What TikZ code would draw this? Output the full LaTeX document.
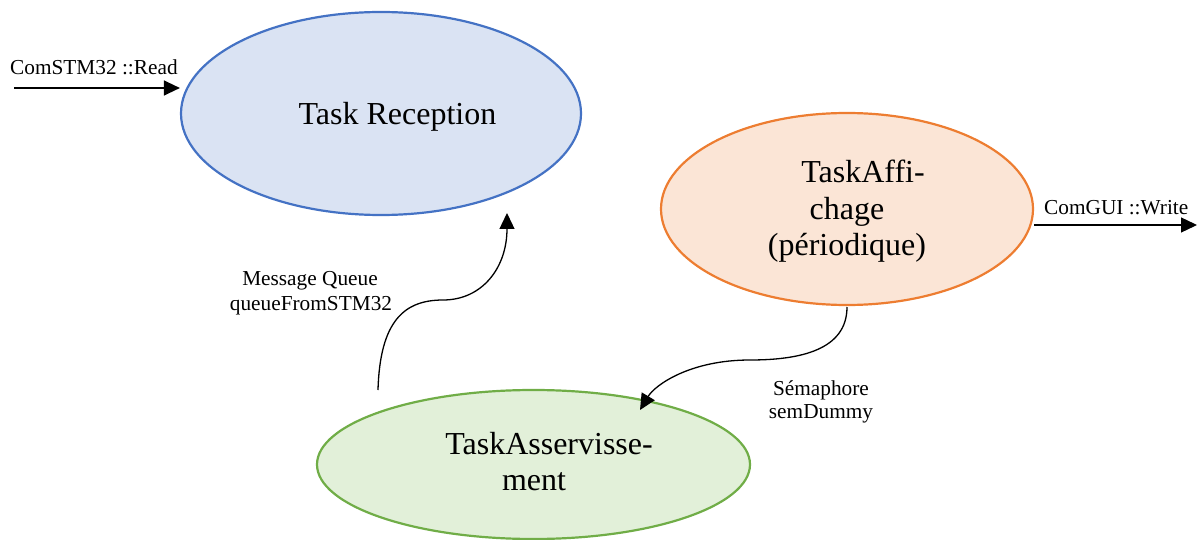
\documentclass[tikz,border=0pt]{standalone}
\usepackage{fontspec}
\setmainfont{Liberation Serif}
\usetikzlibrary{shapes.geometric,arrows.meta}

\definecolor{recfill}{HTML}{DAE3F3}
\definecolor{recline}{HTML}{4472C4}
\definecolor{afffill}{HTML}{FBE5D6}
\definecolor{affline}{HTML}{ED7D31}
\definecolor{assfill}{HTML}{E2F0D9}
\definecolor{assline}{HTML}{70AD47}

\tikzset{
  task/.style={ellipse, inner sep=0pt, line width=2.2pt},
  bigtext/.style={anchor=base, inner sep=0pt, font=\fontsize{32}{36}\selectfont},
  smalltext/.style={anchor=base, inner sep=0pt, font=\fontsize{21.3}{25}\selectfont},
  flow/.style={line width=1.3pt, -{Triangle[length=16pt,width=15pt]}}
}

\begin{document}
\begin{tikzpicture}[x=1pt, y=-1pt]
  \useasboundingbox (0,0) rectangle (1197,540);

  % tasks
  \node[task, draw=recline, fill=recfill, minimum width=400pt, minimum height=203pt] (rec) at (381,113.5) {};
  \node[task, draw=affline, fill=afffill, minimum width=372pt, minimum height=192pt] (aff) at (847,209) {};
  \node[task, draw=assline, fill=assfill, minimum width=433pt, minimum height=149pt] (ass) at (533.5,464.5) {};

  % task names
  \node[bigtext] (recname) at (397.5,125) {Task Reception};
  \node[bigtext] (affname1) at (863,183) {TaskAffi-};
  \node[bigtext] (affname2) at (847,220) {chage};
  \node[bigtext] (affname3) at (847,255) {(périodique)};
  \node[bigtext] (assname1) at (549,454) {TaskAsservisse-};
  \node[bigtext] (assname2) at (534,490) {ment};

  % serial input
  \coordinate (rxin) at (14,88);
  \draw[flow] (rxin) -- (rxin -| rec.west);
  \node[smalltext, anchor=base west] (rxlabel) at (10,75) {ComSTM32 ::Read};

  % GUI output
  \coordinate (txout) at (1197,225);
  \draw[flow] (txout -| aff.east) -- (txout);
  \node[smalltext, anchor=base west] (txlabel) at (1044,215) {ComGUI ::Write};

  % message queue from the control task to the reception task
  \coordinate (qstart) at (378,390);
  \coordinate (qmid) at (443,300);
  \coordinate (qend) at (507,213);
  \draw[flow] (qstart) .. controls (380,320) and (405,300) .. (qmid)
                       .. controls (482,300) and (507,268) .. (qend);
  \node[smalltext] (qlabel1) at (310,285) {Message Queue};
  \node[smalltext] (qlabel2) at (311,310) {queueFromSTM32};

  % semaphore from the display task to the control task
  \coordinate (sstart) at (847,307);
  \coordinate (smid) at (750,360);
  \coordinate (send) at (640,410);
  \draw[flow] (sstart) .. controls (847,350) and (800,360) .. (smid)
                       .. controls (690,360) and (655,385) .. (send);
  \node[smalltext] (slabel1) at (821,395) {Sémaphore};
  \node[smalltext] (slabel2) at (821,418) {semDummy};
\end{tikzpicture}
\end{document}
